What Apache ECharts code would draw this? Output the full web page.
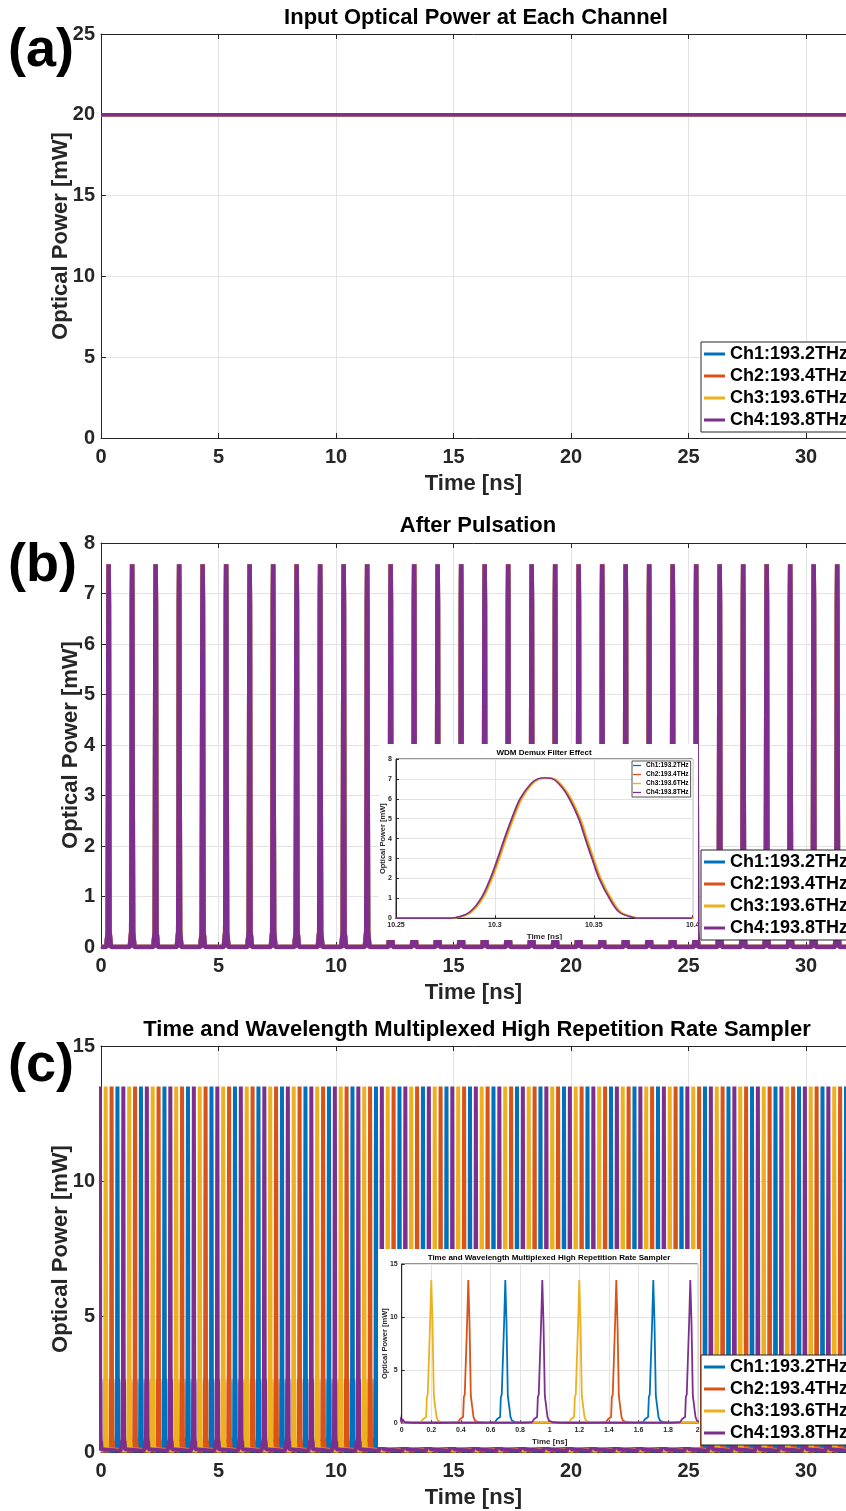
<!DOCTYPE html>
<html><head><meta charset="utf-8">
<script src="https://cdn.jsdelivr.net/npm/echarts@6/dist/echarts.min.js"></script>
<style>
html,body{margin:0;padding:0;background:#fff;}
#main{position:absolute;left:0;top:0;width:846px;height:1511px;}
#insetB{position:absolute;left:379px;top:744px;width:319px;height:196px;background:#fff;}
#insetC{position:absolute;left:378px;top:1249px;width:322px;height:198px;background:#fff;}
</style></head><body>
<div id="main"></div><div id="insetB"></div><div id="insetC"></div>
<script>
// ---------------- data ----------------
const channels = ['Ch1:193.2THz', 'Ch2:193.4THz', 'Ch3:193.6THz', 'Ch4:193.8THz'];
const colors = ['#0072BD', '#D95319', '#EDB120', '#7E2F8E'];
const xTicksMain = [0, 5, 10, 15, 20, 25, 30];

// (a) input CW power, mW
const inputTime = [0, 32];
const inputPower = [20, 20, 20, 20];

// (b) pulse train after pulsation (same for all channels)
const pulseCentersB = [0.325, 1.325, 2.325, 3.325, 4.325, 5.325, 6.325, 7.325, 8.325, 9.325,
  10.325, 11.325, 12.325, 13.325, 14.325, 15.325, 16.325, 17.325, 18.325, 19.325,
  20.325, 21.325, 22.325, 23.325, 24.325, 25.325, 26.325, 27.325, 28.325, 29.325,
  30.325, 31.325];
const pulseBOffsets = [-0.1, -0.04, -0.025, -0.012, 0, 0.012, 0.025, 0.04, 0.1];
const pulseBValues = [0, 0.3, 3.0, 6.8, 7.58, 6.8, 3.0, 0.3, 0];

// (b) inset: WDM demux filter effect (Ch1 curve, others shifted slightly)
const filterTime = [10.25, 10.275, 10.28, 10.2874, 10.2933, 10.298, 10.3017, 10.3051, 10.3088, 10.313,
  10.318, 10.322, 10.3258, 10.3296, 10.334, 10.338, 10.3427, 10.346, 10.3494, 10.353,
  10.3582, 10.3633, 10.37, 10.375, 10.4];
const filterPower = [0, 0, 0.03, 0.3, 1, 2, 3, 4, 5, 6,
  6.7, 7, 7.05, 7, 6.6, 6, 5, 4, 3, 2,
  1, 0.3, 0.05, 0, 0];
const filterShift = [0, 0.0003, 0.0007, -0.0004];

// (c) time & wavelength multiplexed sampler: pulse times per channel
const samplerCenters = [
  [0.7, 1.7, 2.7, 3.7, 4.7, 5.7, 6.7, 7.7, 8.7, 9.7, 10.7, 11.7, 12.7, 13.7, 14.7, 15.7,
   16.7, 17.7, 18.7, 19.7, 20.7, 21.7, 22.7, 23.7, 24.7, 25.7, 26.7, 27.7, 28.7, 29.7, 30.7, 31.7],
  [0.45, 1.45, 2.45, 3.45, 4.45, 5.45, 6.45, 7.45, 8.45, 9.45, 10.45, 11.45, 12.45, 13.45, 14.45, 15.45,
   16.45, 17.45, 18.45, 19.45, 20.45, 21.45, 22.45, 23.45, 24.45, 25.45, 26.45, 27.45, 28.45, 29.45, 30.45, 31.45],
  [0.2, 1.2, 2.2, 3.2, 4.2, 5.2, 6.2, 7.2, 8.2, 9.2, 10.2, 11.2, 12.2, 13.2, 14.2, 15.2,
   16.2, 17.2, 18.2, 19.2, 20.2, 21.2, 22.2, 23.2, 24.2, 25.2, 26.2, 27.2, 28.2, 29.2, 30.2, 31.2],
  [-0.05, 0.95, 1.95, 2.95, 3.95, 4.95, 5.95, 6.95, 7.95, 8.95, 9.95, 10.95, 11.95, 12.95, 13.95, 14.95, 15.95,
   16.95, 17.95, 18.95, 19.95, 20.95, 21.95, 22.95, 23.95, 24.95, 25.95, 26.95, 27.95, 28.95, 29.95, 30.95, 31.95]
];
const pulseCOffsets = [-0.12, -0.07, -0.055, -0.045, -0.035, -0.03, -0.024, -0.017, -0.008, 0,
  0.008, 0.017, 0.024, 0.03, 0.035, 0.045, 0.055, 0.07, 0.12];
const pulseCValues = [0.05, 0.1, 0.4, 0.25, 0.6, 2.5, 2.7, 2.6, 9.5, 13.5,
  9.5, 2.6, 2.7, 2.5, 0.6, 0.25, 0.4, 0.1, 0.05];

// ---------------- build ----------------
const FONT = '"Liberation Sans", Arial, Helvetica, sans-serif';
const TXT = '#262626';

function train(centers, offs, vals, t0, t1, base) {
  const d = [[t0, base]];
  centers.forEach(c => offs.forEach((o, k) => d.push([c + o, vals[k]])));
  d.push([t1, base]);
  d.sort((a, b) => a[0] - b[0]);
  return d;
}

const gridsMain = [
  {left: 101, top: 34, width: 745, height: 404, outerBoundsMode: 'none', containLabel: false},
  {left: 101, top: 543, width: 745, height: 404, outerBoundsMode: 'none', containLabel: false},
  {left: 101, top: 1046, width: 745, height: 406, outerBoundsMode: 'none', containLabel: false}
];
const yMax = [25, 8, 15], yInt = [5, 1, 5], yNameGap = [29, 19, 29];

const xAxes = [], yAxes = [];
gridsMain.forEach((g, i) => {
  xAxes.push({
    gridIndex: i, type: 'value', min: 0, max: 31.7, interval: 5, position: 'bottom',
    axisLine: {show: true, onZero: false, lineStyle: {color: TXT, width: 1}},
    axisTick: {show: true, inside: true, length: 5, lineStyle: {color: TXT}},
    axisLabel: {show: true, showMaxLabel: false, margin: 9, color: TXT, fontFamily: FONT, fontWeight: 'bold', fontSize: 20},
    splitLine: {show: true, lineStyle: {color: '#e3e3e3', width: 1}},
    name: 'Time [ns]', nameLocation: 'middle', nameGap: 35, nameMoveOverlap: false,
    nameTextStyle: {color: TXT, fontFamily: FONT, fontWeight: 'bold', fontSize: 22}
  });
  xAxes.push({
    gridIndex: i, type: 'value', min: 0, max: 31.7, interval: 5, position: 'top',
    axisLine: {show: true, onZero: false, lineStyle: {color: TXT, width: 1}},
    axisTick: {show: true, inside: true, length: 5, lineStyle: {color: TXT}},
    axisLabel: {show: false}, splitLine: {show: false}
  });
  yAxes.push({
    gridIndex: i, type: 'value', min: 0, max: yMax[i], interval: yInt[i],
    axisLine: {show: true, onZero: false, lineStyle: {color: TXT, width: 1}},
    axisTick: {show: true, inside: true, length: 5, lineStyle: {color: TXT}},
    axisLabel: {margin: 6, color: TXT, fontFamily: FONT, fontWeight: 'bold', fontSize: 20},
    splitLine: {show: true, lineStyle: {color: '#e3e3e3', width: 1}},
    name: 'Optical Power [mW]', nameLocation: 'middle', nameGap: yNameGap[i], nameMoveOverlap: false,
    nameTextStyle: {color: TXT, fontFamily: FONT, fontWeight: 'bold', fontSize: 22}
  });
});

const series = [];
channels.forEach((name, c) => {
  series.push({
    name, type: 'line', xAxisIndex: 0, yAxisIndex: 0, symbol: 'none', animation: false,
    data: inputTime.map(t => [t, inputPower[c]]),
    itemStyle: {color: colors[c]}, lineStyle: {color: colors[c], width: 3.5}
  });
});
channels.forEach((name, c) => {
  series.push({
    name, type: 'line', xAxisIndex: 2, yAxisIndex: 1, symbol: 'none', animation: false,
    data: train(pulseCentersB, pulseBOffsets, pulseBValues, 0, 32, 0),
    itemStyle: {color: colors[c]}, lineStyle: {color: colors[c], width: 4.5}
  });
});
channels.forEach((name, c) => {
  series.push({
    name, type: 'line', xAxisIndex: 4, yAxisIndex: 2, symbol: 'none', animation: false,
    data: train(samplerCenters[c], pulseCOffsets, pulseCValues, 0, 32, 0.05),
    itemStyle: {color: colors[c]}, lineStyle: {color: colors[c], width: 4}
  });
});

function legendAt(top) {
  return {
    data: channels, orient: 'vertical', left: 701, top, padding: [3, 6, 3, 3], itemGap: 4,
    itemWidth: 21, itemHeight: 3, icon: 'rect', selectedMode: false,
    backgroundColor: '#fff', borderColor: TXT, borderWidth: 1, borderRadius: 0,
    textStyle: {color: '#000', fontFamily: FONT, fontWeight: 'bold', fontSize: 18, lineHeight: 18}
  };
}

function gtext(text, x, y, size, align) {
  return {type: 'text', x, y, z: 100, style: {text, fill: '#000', font: 'bold ' + size + 'px ' + FONT,
    textAlign: align || 'center', textVerticalAlign: 'middle'}};
}

const main = echarts.init(document.getElementById('main'), null, {renderer: 'canvas'});
main.setOption({
  animation: false,
  grid: gridsMain,
  xAxis: xAxes, yAxis: yAxes,
  legend: [legendAt(342), legendAt(850), legendAt(1355)],
  series,
  graphic: [
    gtext('Input Optical Power at Each Channel', 476, 18, 22),
    gtext('After Pulsation', 478, 526, 22),
    gtext('Time and Wavelength Multiplexed High Repetition Rate Sampler', 477, 1030, 22),
    gtext('(a)', 8, 51, 54, 'left'),
    gtext('(b)', 8, 566, 54, 'left'),
    gtext('(c)', 8, 1066, 54, 'left')
  ]
});

// ---------------- insets ----------------
function insetAxes(xmin, xmax, xint, ymax, yint, yGap) {
  return {
    xAxis: {type: 'value', min: xmin, max: xmax, interval: xint,
      axisLine: {show: true, onZero: false, lineStyle: {color: TXT}},
      axisTick: {show: true, inside: true, length: 3, lineStyle: {color: TXT}},
      axisLabel: {margin: 3, color: TXT, fontFamily: FONT, fontWeight: 'bold', fontSize: 7},
      splitLine: {show: true, lineStyle: {color: '#e3e3e3'}},
      name: 'Time [ns]', nameLocation: 'middle', nameGap: 14, nameMoveOverlap: false,
      nameTextStyle: {color: TXT, fontFamily: FONT, fontWeight: 'bold', fontSize: 8}},
    yAxis: {type: 'value', min: 0, max: ymax, interval: yint,
      axisLine: {show: true, onZero: false, lineStyle: {color: TXT}},
      axisTick: {show: true, inside: true, length: 3, lineStyle: {color: TXT}},
      axisLabel: {margin: 4, color: TXT, fontFamily: FONT, fontWeight: 'bold', fontSize: 7},
      splitLine: {show: true, lineStyle: {color: '#e3e3e3'}},
      name: 'Optical Power [mW]', nameLocation: 'middle', nameGap: yGap, nameMoveOverlap: false,
      nameTextStyle: {color: TXT, fontFamily: FONT, fontWeight: 'bold', fontSize: 7.5}}
  };
}

const ib = echarts.init(document.getElementById('insetB'));
ib.setOption(Object.assign({
  animation: false,
  grid: {left: 17, top: 15, width: 296.7, height: 159.3, show: true, borderColor: TXT, borderWidth: 1,
    outerBoundsMode: 'none', containLabel: false},
  legend: {data: channels, orient: 'vertical', left: 253, top: 17, padding: [1, 2, 1, 1], itemGap: 2,
    itemWidth: 8, itemHeight: 1.3, icon: 'rect', selectedMode: false,
    backgroundColor: '#fff', borderColor: TXT, borderWidth: 0.8,
    textStyle: {color: '#000', fontFamily: FONT, fontWeight: 'bold', fontSize: 6.5, lineHeight: 7}},
  graphic: [gtext('WDM Demux Filter Effect', 165, 8.5, 8)],
  series: channels.map((name, c) => ({
    name, type: 'line', symbol: 'none', smooth: 0.35, animation: false,
    data: filterTime.map((t, k) => [t + filterShift[c], filterPower[k]]),
    itemStyle: {color: colors[c]}, lineStyle: {color: colors[c], width: 1.4}
  }))
}, insetAxes(10.25, 10.4, 0.05, 8, 1, 9)));

const ic = echarts.init(document.getElementById('insetC'));
ic.setOption(Object.assign({
  animation: false,
  grid: {left: 23.7, top: 15, width: 296, height: 159.3, show: true, borderColor: TXT, borderWidth: 1,
    outerBoundsMode: 'none', containLabel: false},
  graphic: [gtext('Time and Wavelength Multiplexed High Repetition Rate Sampler', 171, 8.7, 8)],
  series: channels.map((name, c) => ({
    name, type: 'line', symbol: 'none', animation: false,
    data: train(samplerCenters[c], pulseCOffsets, pulseCValues, 0, 32, 0.05),
    itemStyle: {color: colors[c]}, lineStyle: {color: colors[c], width: 1.8}
  }))
}, insetAxes(0, 2, 0.2, 15, 5, 13)));
</script>
</body></html>
